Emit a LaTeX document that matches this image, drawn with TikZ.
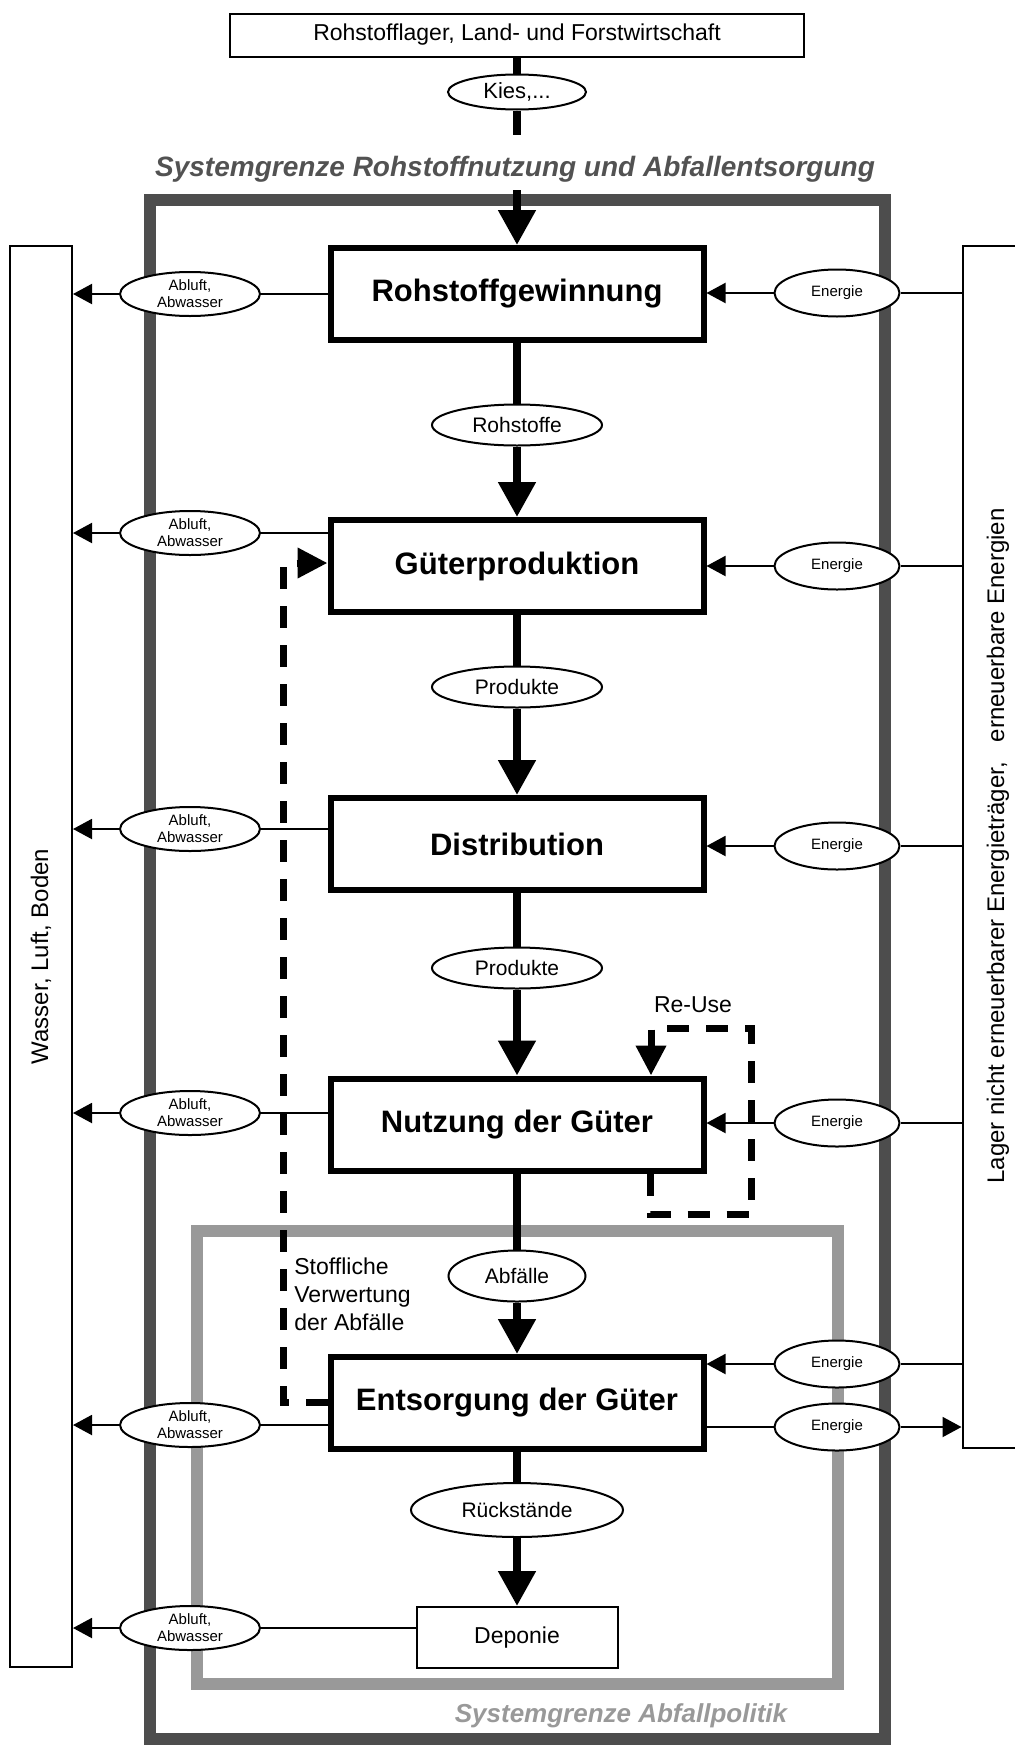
\documentclass[tikz,border=0pt]{standalone}
\usepackage{fontspec}
\setmainfont{Liberation Sans}
\usetikzlibrary{arrows.meta,shapes.geometric}
\definecolor{darkframe}{HTML}{4D4D4D}
\definecolor{lightframe}{HTML}{999999}
\definecolor{systext}{HTML}{525252}
\begin{document}
\begin{tikzpicture}[x=0.5pt,y=-0.5pt,
  procbox/.style={draw, line width=3pt, fill=white, minimum width=186.5pt, minimum height=46pt, inner sep=0pt, font=\fontsize{15.5}{18}\selectfont\bfseries},
  plainbox/.style={draw, line width=1pt, fill=white, inner sep=0pt, font=\fontsize{11.5}{14}\selectfont},
  flowell/.style={draw, ellipse, line width=1pt, fill=white, inner sep=0pt, minimum width=85pt, minimum height=20.5pt, font=\fontsize{10.5}{12}\selectfont},
  emiss/.style={draw, ellipse, line width=1pt, fill=white, inner sep=0pt, minimum width=70pt, minimum height=22pt, align=center, font=\fontsize{7.5}{8.5}\selectfont},
  energ/.style={draw, ellipse, line width=1pt, fill=white, inner sep=0pt, minimum width=62.5pt, minimum height=23.5pt, font=\fontsize{7.5}{8.5}\selectfont},
  mainflow/.style={line width=4pt},
  mainarrow/.style={line width=4pt, -{Triangle[length=17.5pt,width=18pt]}},
  thinline/.style={line width=1pt},
  thinarrow/.style={line width=1pt, -{Triangle[length=9.5pt,width=10pt]}},
  dashline/.style={line width=3.5pt, dash pattern=on 11pt off 8.5pt},
  dasharrow/.style={dashline, -{Triangle[length=15pt,width=14.5pt]}},
  systemlabel/.style={font=\fontsize{14}{16}\selectfont\bfseries\itshape, inner sep=0pt, anchor=base},
  sidetext/.style={font=\fontsize{12}{14}\selectfont, rotate=90, inner sep=0pt},
  plainlabel/.style={font=\fontsize{11.5}{14}\selectfont, inner sep=0pt},
]
\useasboundingbox (0,0) rectangle (1015,1745);
% system boundaries
\draw[line width=6pt, darkframe] (150,200) rectangle (885,1739);
\draw[line width=6pt, lightframe] (197,1231) rectangle (838,1684);

% side boxes
\node[draw, line width=1pt, minimum width=31pt, minimum height=710.5pt, inner sep=0pt] (wlb) at (41,956.5) {};
\node[sidetext] (wlbtext) at (41,956.5) {Wasser, Luft, Boden};
\node[draw, line width=1pt, minimum width=38.5pt, minimum height=601pt, inner sep=0pt] (rlb) at (1001,847) {};
\node[sidetext] (rlbtext) at (998,846) {Lager nicht erneuerbarer Energieträger,\hspace{0.834em}erneuerbare Energien};

% top
\node[plainbox, minimum width=287pt, minimum height=21.5pt] (top) at (517,35) {Rohstofflager, Land- und Forstwirtschaft};
\node[flowell, minimum width=69pt, minimum height=17.5pt, font=\fontsize{11}{13}\selectfont] (kies) at (517,92) {Kies,...};
\coordinate (kiesend) at (517,135);
\coordinate (sysstart) at (517,190);
\node[systemlabel, text=systext] (sys1) at (515,176) {Systemgrenze Rohstoffnutzung und Abfallentsorgung};

% main chain
\node[procbox] (rg) at (517,294) {Rohstoffgewinnung};
\node[flowell] (rohst) at (517,425) {Rohstoffe};
\node[procbox] (gp) at (517,566) {Güterproduktion};
\node[flowell] (prod1) at (517,687) {Produkte};
\node[procbox] (dist) at (517,844) {Distribution};
\node[flowell] (prod2) at (517,968) {Produkte};
\node[procbox] (nutz) at (517,1124.5) {Nutzung der Güter};
\node[flowell, minimum width=68.5pt, minimum height=25.5pt] (abf) at (517,1276) {Abfälle};
\node[procbox] (ents) at (517,1403) {Entsorgung der Güter};
\node[flowell, minimum width=106pt, minimum height=27pt] (rueck) at (517,1510) {Rückstände};
\node[plainbox, minimum width=100.5pt, minimum height=30.5pt] (dep) at (517,1637.5) {Deponie};

% emissions
\node[emiss] (ab1) at (190,294) {Abluft,\\Abwasser};
\node[emiss] (ab2) at (190,533) {Abluft,\\Abwasser};
\node[emiss] (ab3) at (190,829) {Abluft,\\Abwasser};
\node[emiss] (ab4) at (190,1113) {Abluft,\\Abwasser};
\node[emiss] (ab5) at (190,1425) {Abluft,\\Abwasser};
\node[emiss] (ab6) at (190,1628) {Abluft,\\Abwasser};

% energy
\node[energ] (en1) at (837,293) {Energie};
\node[energ] (en2) at (837,566) {Energie};
\node[energ] (en3) at (837,846) {Energie};
\node[energ] (en4) at (837,1123) {Energie};
\node[energ] (en5) at (837,1364) {Energie};
\node[energ] (en6) at (837,1427) {Energie};

% labels
\node[plainlabel] (reuse) at (693,1005) {Re-Use};
\node[plainlabel, anchor=north west, align=left] (stoff) at (294,1257) {Stoffliche\\Verwertung\\der Abfälle};
\node[systemlabel, text=lightframe, font=\fontsize{13}{15}\selectfont\bfseries\itshape] (sys2) at (621,1722) {Systemgrenze Abfallpolitik};

% main flow connectors
\draw[mainflow] (top) -- (kies);
\draw[mainflow] (kies) -- (kiesend);
\draw[mainarrow] (sysstart) -- (rg);
\draw[mainflow] (rg) -- (rohst);
\draw[mainarrow] (rohst) -- (gp);
\draw[mainflow] (gp) -- (prod1);
\draw[mainarrow] (prod1) -- (dist);
\draw[mainflow] (dist) -- (prod2);
\draw[mainarrow] (prod2) -- (nutz);
\draw[mainflow] (nutz) -- (abf);
\draw[mainarrow] (abf) -- (ents);
\draw[mainflow] (ents) -- (rueck);
\draw[mainarrow] (rueck) -- (dep);

% emission connectors
\foreach \e/\b in {ab1/rg, ab2/gp, ab3/dist, ab4/nutz, ab5/ents, ab6/dep} {
  \draw[thinline] (\e) -- (\e -| \b.west);
  \draw[thinarrow] (\e) -- (\e -| wlb.east);
}

% energy connectors
\foreach \e/\b in {en1/rg, en2/gp, en3/dist, en4/nutz, en5/ents} {
  \draw[thinline] (\e -| rlb.west) -- (\e);
  \draw[thinarrow] (\e) -- (\e -| \b.east);
}
\draw[thinline] (en6 -| ents.east) -- (en6);
\draw[thinarrow] (en6) -- (en6 -| rlb.west);

% recycling loop
\coordinate (svbend) at (283,1402);
\coordinate (svtop) at (283,563);
\draw[dasharrow] (svbend -| ents.west) -- (svbend) -- (svtop) -- (svtop -| gp.west);

% re-use loop
\coordinate (ruA) at (650,1214);
\coordinate (ruB) at (751,1214);
\coordinate (ruC) at (751,1028);
\coordinate (ruD) at (651,1028);
\draw[dasharrow] (ruA |- nutz.south) -- (ruA) -- (ruB) -- (ruC) -- (ruD) -- (ruD |- nutz.north);
\end{tikzpicture}
\end{document}
